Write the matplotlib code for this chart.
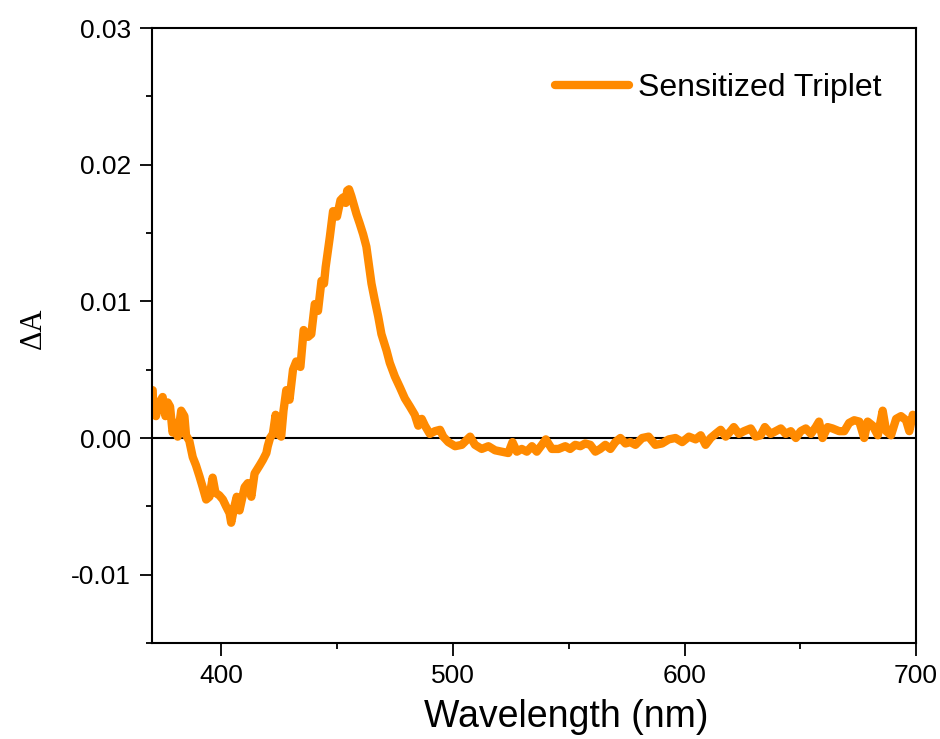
import matplotlib
matplotlib.use('Agg')
import matplotlib.pyplot as plt
from matplotlib.ticker import MultipleLocator, FormatStrFormatter

# transient absorption spectrum
wavelength = [
  370.3, 370.6, 371.7, 373.2, 374.6, 375.8, 376.8, 377.8, 378.9, 380.1,
  381.1, 382.6, 384.0, 384.7, 386.1, 387.6, 389.0, 390.5, 391.9, 393.4,
  394.8, 396.2, 397.4, 399.1, 400.6, 402.0, 403.5, 404.2, 405.6, 406.6,
  407.8, 410.0, 411.4, 412.9, 414.3, 416.5, 417.9, 419.4, 420.0, 421.0,
  422.2, 423.4, 424.4, 425.8, 426.8, 428.0, 429.4, 430.9, 432.3, 434.1,
  435.5, 437.4, 438.8, 440.3, 441.7, 443.2, 444.3, 445.0, 446.8, 448.2,
  449.9, 451.4, 452.5, 453.7, 454.3, 455.1, 456.1, 457.1, 458.3, 459.7,
  461.2, 462.6, 463.8, 464.8, 466.2, 467.7, 469.1, 471.3, 472.7, 474.9,
  477.1, 479.2, 481.4, 483.5, 485.0, 486.5, 487.9, 490.0, 492.2, 494.4,
  495.8, 498.0, 500.9, 503.8, 507.4, 509.5, 512.4, 515.3, 518.2, 521.1,
  523.9, 525.7, 527.6, 529.7, 531.9, 534.1, 536.2, 538.4, 540.1, 542.7,
  545.6, 548.5, 550.6, 552.8, 555.0, 557.1, 559.3, 561.5, 563.6, 565.8,
  568.0, 570.1, 572.3, 574.5, 576.6, 578.8, 581.7, 584.5, 587.4, 590.3,
  593.2, 596.1, 599.0, 601.9, 604.8, 607.0, 609.1, 611.3, 613.4, 615.6,
  617.8, 619.9, 621.3, 623.5, 625.7, 628.6, 630.7, 632.9, 634.7, 637.2,
  639.4, 641.6, 643.7, 645.9, 648.1, 650.2, 652.4, 654.6, 656.7, 658.1,
  659.6, 661.8, 663.9, 666.8, 669.0, 671.1, 673.3, 675.5, 677.6, 679.1,
  681.3, 683.5, 685.6, 687.1, 689.2, 691.4, 693.5, 695.7, 697.1, 698.6,
  700.0,
]
delta_a = [
  0.0035, 0.0018, 0.0016, 0.0026, 0.0030, 0.0016, 0.0026, 0.0023, 0.0004, 0.0011,
  0.0001, 0.0020, 0.0016, 0.0002, -0.0002, -0.0014, -0.0020, -0.0028, -0.0036, -0.0045,
  -0.0043, -0.0029, -0.0040, -0.0042, -0.0045, -0.0050, -0.0055, -0.0062, -0.0050, -0.0043,
  -0.0053, -0.0036, -0.0033, -0.0043, -0.0026, -0.0020, -0.0016, -0.0011, -0.0006, 0.0000,
  0.0003, 0.0017, 0.0003, 0.0001, 0.0020, 0.0035, 0.0028, 0.0050, 0.0056, 0.0052,
  0.0079, 0.0074, 0.0076, 0.0098, 0.0093, 0.0115, 0.0113, 0.0125, 0.0147, 0.0166,
  0.0162, 0.0174, 0.0176, 0.0172, 0.0181, 0.0182, 0.0177, 0.0171, 0.0164, 0.0157,
  0.0149, 0.0140, 0.0125, 0.0113, 0.0101, 0.0089, 0.0076, 0.0064, 0.0055, 0.0045,
  0.0037, 0.0029, 0.0023, 0.0017, 0.0009, 0.0014, 0.0009, 0.0003, 0.0005, 0.0006,
  0.0001, -0.0003, -0.0006, -0.0005, 0.0001, -0.0005, -0.0008, -0.0006, -0.0009, -0.0010,
  -0.0011, -0.0003, -0.0010, -0.0008, -0.0010, -0.0006, -0.0010, -0.0005, -0.0001, -0.0008,
  -0.0008, -0.0006, -0.0008, -0.0005, -0.0006, -0.0004, -0.0005, -0.0010, -0.0008, -0.0005,
  -0.0008, -0.0003, 0.0000, -0.0004, -0.0003, -0.0005, 0.0000, 0.0001, -0.0005, -0.0004,
  -0.0001, 0.0000, -0.0003, 0.0001, -0.0001, 0.0002, -0.0005, 0.0000, 0.0003, 0.0006,
  0.0001, 0.0005, 0.0008, 0.0003, 0.0005, 0.0007, 0.0001, 0.0002, 0.0008, 0.0003,
  0.0005, 0.0007, 0.0003, 0.0005, 0.0000, 0.0005, 0.0007, 0.0003, 0.0008, 0.0012,
  0.0000, 0.0008, 0.0007, 0.0005, 0.0005, 0.0011, 0.0013, 0.0012, 0.0000, 0.0012,
  0.0009, 0.0002, 0.0020, 0.0005, 0.0002, 0.0014, 0.0016, 0.0013, 0.0005, 0.0017,
  0.0014,
]

series_label = 'Sensitized Triplet'
line_color = '#FF8A00'

plt.rcParams['font.family'] = ['Liberation Sans', 'DejaVu Sans']
plt.rcParams['axes.unicode_minus'] = False

fig = plt.figure(figsize=(9.4, 7.39), dpi=100)
ax = fig.add_axes([0.1617, 0.1299, 0.8128, 0.8322])

ax.axhline(0, color='black', linewidth=1.5, zorder=1)
ax.plot(wavelength, delta_a, color=line_color, linewidth=6,
        solid_joinstyle='round', solid_capstyle='round', label=series_label, zorder=2)

ax.set_xlim(370, 700)
ax.set_ylim(-0.015, 0.03)

ax.xaxis.set_major_locator(MultipleLocator(100))
ax.xaxis.set_minor_locator(MultipleLocator(50))
ax.yaxis.set_major_locator(MultipleLocator(0.01))
ax.yaxis.set_minor_locator(MultipleLocator(0.005))
ax.yaxis.set_major_formatter(FormatStrFormatter('%.2f'))

ax.tick_params(which='major', direction='out', length=9, width=1.3, labelsize=19, pad=6)
ax.tick_params(which='minor', direction='out', length=4.5, width=1.3)
ax.tick_params(top=False, right=False, which='both')

for sp in ax.spines.values():
  sp.set_linewidth(1.5)

# label sits a bit right of centre in the original
ax.set_xlabel('Wavelength (nm)', fontsize=27, labelpad=8)
ax.xaxis.label.set_x(0.5425)
ax.set_ylabel('ΔA', fontsize=22, family=['Liberation Serif', 'DejaVu Serif'])
ax.yaxis.set_label_coords(-0.136, 0.512)

ax.legend(loc='upper right', bbox_to_anchor=(1.018, 1.005), frameon=False, fontsize=23,
          handlelength=2.3, handletextpad=0.3, borderaxespad=1.1)

fig.savefig('out.png', dpi=100)
